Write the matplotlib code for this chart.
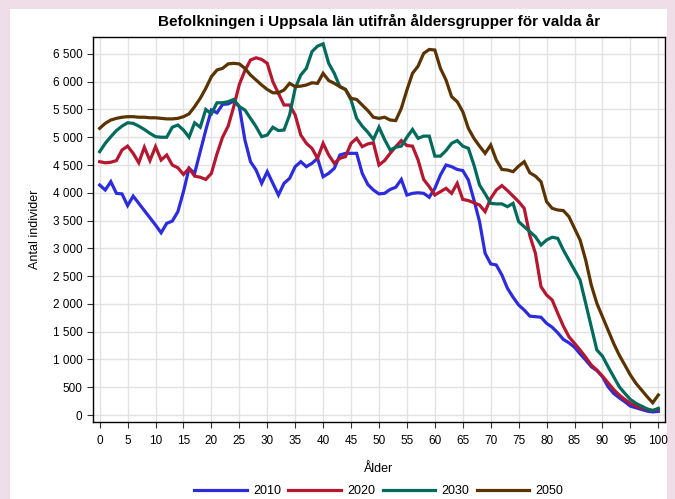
import numpy as np
import matplotlib
matplotlib.use("Agg")
from matplotlib import pyplot as plt
from matplotlib.patches import Rectangle
from matplotlib.ticker import FuncFormatter

plt.rcParams['font.family'] = ['Liberation Sans', 'DejaVu Sans']

ages = list(range(0, 101))

# 2010
pop_2010 = [4140, 4050, 4200, 3990, 3980, 3770, 3940, 3810, 3680, 3550,
            3420, 3280, 3450, 3490, 3660, 4020, 4440, 4350, 4740, 5130,
            5490, 5440, 5590, 5600, 5650, 5550, 4950, 4560, 4410, 4170,
            4380, 4170, 3960, 4170, 4260, 4470, 4560, 4470, 4530, 4620,
            4290, 4350, 4440, 4680, 4710, 4710, 4710, 4350, 4150, 4050,
            3980, 3990, 4060, 4100, 4240, 3960, 3990, 4000, 3990, 3920,
            4080, 4320, 4500, 4470, 4420, 4400, 4230, 3870, 3480, 2910,
            2720, 2700, 2520, 2280, 2120, 1980, 1890, 1780, 1770, 1760,
            1650, 1580, 1480, 1360, 1300, 1220, 1100, 990, 870, 800,
            690, 510, 390, 310, 240, 160, 130, 100, 70, 55, 65]

# 2020
pop_2020 = [4560, 4540, 4550, 4580, 4770, 4840, 4710, 4540, 4820, 4580,
            4830, 4590, 4680, 4500, 4450, 4330, 4440, 4300, 4280, 4240,
            4350, 4700, 5000, 5200, 5550, 5950, 6200, 6390, 6430, 6400,
            6330, 6000, 5790, 5580, 5580, 5400, 5040, 4890, 4800, 4620,
            4890, 4680, 4530, 4620, 4650, 4890, 4980, 4830, 4880, 4900,
            4500, 4580, 4710, 4830, 4940, 4850, 4840, 4590, 4240, 4110,
            3960, 4020, 4080, 3990, 4170, 3880, 3860, 3820, 3780, 3660,
            3900, 4050, 4130, 4040, 3940, 3840, 3720, 3230, 2910, 2310,
            2160, 2070, 1830, 1600, 1410, 1290, 1170, 1040, 900, 810,
            700, 580, 460, 360, 280, 210, 160, 130, 100, 80, 100]

# 2030
pop_2030 = [4740, 4890, 5010, 5120, 5200, 5260, 5250, 5200, 5140, 5070,
            5010, 5000, 5000, 5180, 5220, 5130, 5000, 5260, 5180, 5500,
            5420, 5620, 5620, 5640, 5680, 5550, 5490, 5340, 5190, 5010,
            5040, 5180, 5120, 5130, 5400, 5880, 6120, 6240, 6540, 6640,
            6680, 6330, 6150, 5910, 5860, 5670, 5340, 5200, 5090, 4960,
            5180, 4960, 4770, 4820, 4840, 5000, 5140, 4980, 5020, 5020,
            4660, 4660, 4760, 4890, 4940, 4840, 4800, 4500, 4140, 3980,
            3810, 3800, 3800, 3750, 3810, 3480, 3390, 3300, 3210, 3060,
            3150, 3200, 3180, 2970, 2790, 2610, 2430, 2010, 1590, 1170,
            1060, 870, 690, 510, 390, 280, 210, 160, 110, 80, 120]

# 2050
pop_2050 = [5160, 5250, 5310, 5340, 5360, 5370, 5370, 5360, 5360, 5350,
            5350, 5340, 5330, 5330, 5340, 5370, 5420, 5550, 5700, 5880,
            6090, 6210, 6240, 6320, 6330, 6320, 6240, 6120, 6030, 5940,
            5860, 5800, 5800, 5850, 5970, 5910, 5920, 5940, 5980, 5970,
            6150, 6020, 5970, 5910, 5860, 5700, 5680, 5580, 5480, 5360,
            5340, 5360, 5310, 5300, 5520, 5850, 6150, 6280, 6510, 6580,
            6570, 6240, 6030, 5730, 5640, 5460, 5160, 4980, 4840, 4710,
            4860, 4590, 4420, 4410, 4380, 4480, 4560, 4360, 4300, 4200,
            3840, 3720, 3690, 3680, 3570, 3360, 3150, 2790, 2340, 2010,
            1770, 1530, 1290, 1080, 900, 720, 570, 450, 330, 220, 360]

series = [("2010", pop_2010, "#2c2cdc"),
          ("2020", pop_2020, "#b4172f"),
          ("2030", pop_2030, "#006b5c"),
          ("2050", pop_2050, "#5a3300")]

fig = plt.figure(figsize=(6.75, 4.99), dpi=100)
fig.patch.set_facecolor("#efdde8")
# white panel inside the pink border
fig.patches.append(Rectangle((10 / 675, 0), 657 / 675, 490 / 499,
                             transform=fig.transFigure, facecolor="white",
                             edgecolor="none", zorder=-10))

ax = fig.add_axes([0.1373, 0.1543, 0.8479, 0.7722])
for name, vals, col in series:
    ax.plot(ages, vals, color=col, lw=2.3, label=name, solid_joinstyle="miter")

ax.set_xlim(-1.25, 101.2)
ax.set_ylim(-126, 6810)
ax.set_xticks(range(0, 101, 5))
ax.set_yticks(range(0, 6501, 500))
ax.yaxis.set_major_formatter(FuncFormatter(lambda v, p: f"{int(v):,}".replace(",", " ")))
ax.grid(True, color="#e2e2e2", lw=1)
ax.set_axisbelow(True)
ax.tick_params(labelsize=8.5, length=4, color="#333333")
ax.tick_params(axis="x", pad=5)
for s in ax.spines.values():
    s.set_color("black")
    s.set_linewidth(1)

ax.set_title("Befolkningen i Uppsala län utifrån åldersgrupper för valda år",
             fontsize=11, fontweight="bold", pad=8)
ax.set_xlabel("Ålder", fontsize=9, labelpad=12)
ax.set_ylabel("Antal individer", fontsize=9, labelpad=8)

ax.legend(loc="center", bbox_to_anchor=(0.5, -0.18), ncol=4, frameon=False,
          fontsize=9, handlelength=4.2, handletextpad=0.5, columnspacing=0.6,
          borderpad=0)

fig.savefig("out.png", dpi=100)
